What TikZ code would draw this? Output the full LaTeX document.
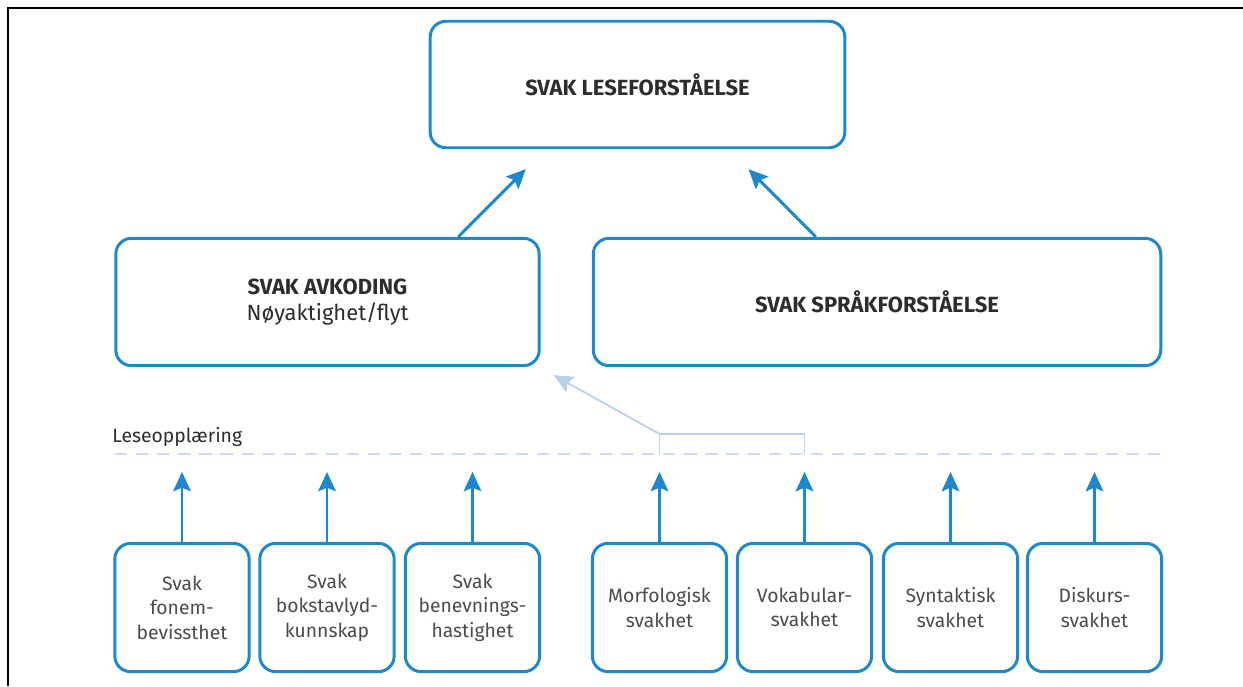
\documentclass[tikz,border=0pt]{standalone}
\usepackage{fontspec}
\setmainfont{Fira Sans}
\usetikzlibrary{arrows.meta}
\usetikzlibrary{calc}

\definecolor{boxblue}{RGB}{30,136,204}
\definecolor{paleblue}{RGB}{184,207,236}
\definecolor{dashblue}{RGB}{205,217,236}
\definecolor{textgray}{RGB}{45,45,45}
\definecolor{lightgray}{RGB}{75,75,75}

\tikzset{
	box/.style={draw=boxblue, line width=1.7pt, rounded corners=9pt, fill=white,
		inner sep=0pt, align=center, text=lightgray, font=\fontsize{11}{13.9}\selectfont},
	bigbox/.style={box, text=textgray, font=\fontsize{12.5}{15}\selectfont\bfseries},
	smallbox/.style={box, minimum width=76.5pt, minimum height=73pt},
	arr/.style={-{Stealth[length=11pt,width=10pt,inset=2pt]}, draw=boxblue, line width=1.7pt},
	palearr/.style={-{Stealth[length=11pt,width=10pt,inset=2pt]}, draw=paleblue, line width=1pt}
}

\begin{document}
\begin{tikzpicture}[x=0.02cm,y=-0.02cm]
	\useasboundingbox (0,0) rectangle (1243,686);
	%frame
	\draw[black, line width=1.3pt] (8,686)--(8,8)--(1243,8);
	
	%upper boxes
	\node[bigbox, minimum width=236pt, minimum height=72pt] (lese) at (637.5,84.5) {SVAK LESEFORSTÅELSE};
	\node[bigbox, minimum width=241pt, minimum height=72.5pt] (avk) at (327.5,302)
		{SVAK AVKODING\\\mdseries Nøyaktighet/flyt};
	\node[bigbox, minimum width=323pt, minimum height=72.5pt] (spraak) at (877,302) {SVAK SPRÅKFORSTÅELSE};
	
	%lower boxes
	\node[smallbox] (fonem) at (182,607.5)    {Svak\\fonem-\\bevissthet};
	\node[smallbox] (bokst) at (327,607.5)    {Svak\\bokstavlyd-\\kunnskap};
	\node[smallbox] (benev) at (472.5,607.5)  {Svak\\benevnings-\\hastighet};
	\node[smallbox] (morf)  at (659.5,607.5)  {Morfologisk\\svakhet};
	\node[smallbox] (vokab) at (804.5,607.5)  {Vokabular-\\svakhet};
	\node[smallbox] (synt)  at (950.5,607.5)  {Syntaktisk\\svakhet};
	\node[smallbox] (disk)  at (1094.5,607.5) {Diskurs-\\svakhet};
	
	%label and dashed line
	\node[anchor=west, inner sep=0pt, text=textgray, font=\fontsize{11}{13}\selectfont] (opplaer) at (112,437) {Leseopplæring};
	\draw[dashblue, line width=1pt, dash pattern=on 7pt off 5pt] (115,454)--(1160,454);
	
	%arrows to the top box
	\draw[arr, shorten >=16pt] ($(avk.north west)+(344,0)$) -- ($(lese.south west)+(117,0)$);	%avkoding
	\draw[arr, shorten >=16pt] ($(spraak.north west)+(224,0)$) -- ($(lese.south west)+(300,0)$);	%spraak
	
	%vertical arrows
	\foreach \b in {fonem,bokst,benev,morf,vokab,synt,disk}
		\draw[arr] (\b.north) -- +(0,-70);
	
	%pale bracket and arrow back to avkoding
	\coordinate (brl) at (morf.north |- 0,434);
	\coordinate (brr) at (vokab.north |- 0,434);
	\draw[paleblue, line width=1pt] (morf.north |- 0,454) -- (brl) -- (brr) -- (vokab.north |- 0,454);
	\draw[palearr] (brl) -- ($(avk.south east)+(13,8)$);
\end{tikzpicture}
\end{document}
